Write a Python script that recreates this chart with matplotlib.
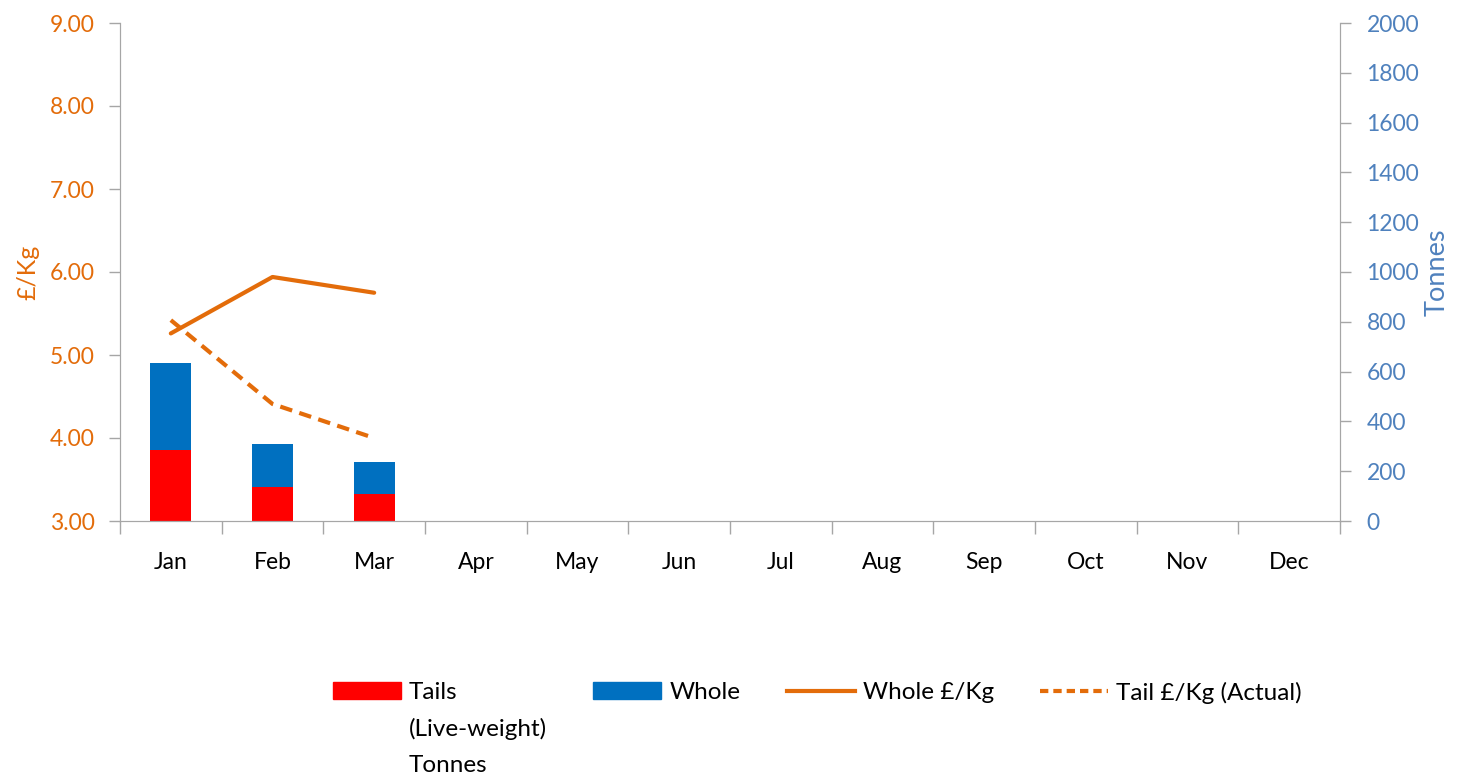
import matplotlib
matplotlib.use("Agg")
import matplotlib.pyplot as plt
import numpy as np
from matplotlib.lines import Line2D
from matplotlib.patches import Patch

months = ["Jan", "Feb", "Mar", "Apr", "May", "Jun", "Jul", "Aug", "Sep", "Oct", "Nov", "Dec"]
tails_tonnes = [285, 137, 107]
whole_tonnes = [348, 171, 131]
whole_price = [5.26, 5.94, 5.75]
tail_price = [5.42, 4.41, 4.00]

ORANGE = "#E36C0A"
BLUE_TXT = "#4F81BD"
RED = "#FF0000"
BLUE = "#0070C0"
GREY = "#A6A6A6"

plt.rcParams['font.family'] = ['Lato', 'DejaVu Sans']
FS = 16.5
LFS = 17.5

fig = plt.figure(figsize=(14.57, 7.81), dpi=100)
ax = fig.add_axes([120/1457, 1-521/781, (1340-120)/1457, (521-23)/781])
ax2 = ax.twinx()

x = np.arange(len(months))
n = len(tails_tonnes)
bw = 0.4
ax2.bar(x[:n], tails_tonnes, width=bw, color=RED, zorder=2)
ax2.bar(x[:n], whole_tonnes, width=bw, bottom=tails_tonnes, color=BLUE, zorder=2)

ax.set_zorder(ax2.get_zorder() + 1)
ax.patch.set_visible(False)
ax.plot(x[:n], whole_price, color=ORANGE, lw=3, solid_capstyle='round', zorder=3)
ax.plot(x[:n], tail_price, color=ORANGE, lw=3, dashes=(3, 1.8), zorder=3)

ax.set_xlim(-0.5, 11.5)
ax.set_ylim(3, 9)
ax2.set_ylim(0, 2000)
ax.set_yticks(np.arange(3, 9.01, 1))
ax.set_yticklabels([f"{v:.2f}" for v in np.arange(3, 9.01, 1)])
ax2.set_yticks(np.arange(0, 2001, 200))

ax.set_xticks(x)
ax.set_xticklabels(months)
ax.set_xticks(np.arange(-0.5, 12, 1), minor=True)
ax.tick_params(axis='x', which='major', length=0, pad=22, labelsize=FS, colors='black')
ax.tick_params(axis='x', which='minor', length=9, width=1, color=GREY, direction='out')
ax.tick_params(axis='y', length=8, width=1, color=GREY, labelcolor=ORANGE, labelsize=FS, pad=10)
ax2.tick_params(axis='y', length=8, width=1, color=GREY, labelcolor=BLUE_TXT, labelsize=FS, pad=11)

for a in (ax, ax2):
    for s in a.spines.values():
        s.set_color(GREY)
    a.spines['top'].set_visible(False)

ax.set_ylabel("£/Kg", color=ORANGE, fontsize=FS + 1.5, labelpad=8)
ax2.set_ylabel("Tonnes", color=BLUE_TXT, fontsize=FS + 3, labelpad=4, rotation=90)

handles = [Patch(color=RED), Patch(color=BLUE),
           Line2D([], [], color=ORANGE, lw=3),
           Line2D([], [], color=ORANGE, lw=3, dashes=(2, 1.2))]
labels = ["Tails\n(Live-weight)\nTonnes", "Whole", "Whole £/Kg", "Tail £/Kg (Actual)"]
leg = fig.legend(handles, labels, loc='upper left', bbox_to_anchor=(333/1457, 1-682/781),
                 ncol=4, frameon=False, fontsize=LFS, handlelength=2.8, handleheight=0.7,
                 handletextpad=0.33, columnspacing=1.9, labelspacing=0.6, borderpad=0,
                 borderaxespad=0)
for t in leg.get_texts():
    t.set_linespacing(1.85)
try:
    leg._legend_handle_box.align = "top"
    for col in leg._legend_handle_box.get_children():
        for item in col.get_children():
            item.align = "top"
except Exception:
    pass

fig.savefig("out.png", dpi=100)
